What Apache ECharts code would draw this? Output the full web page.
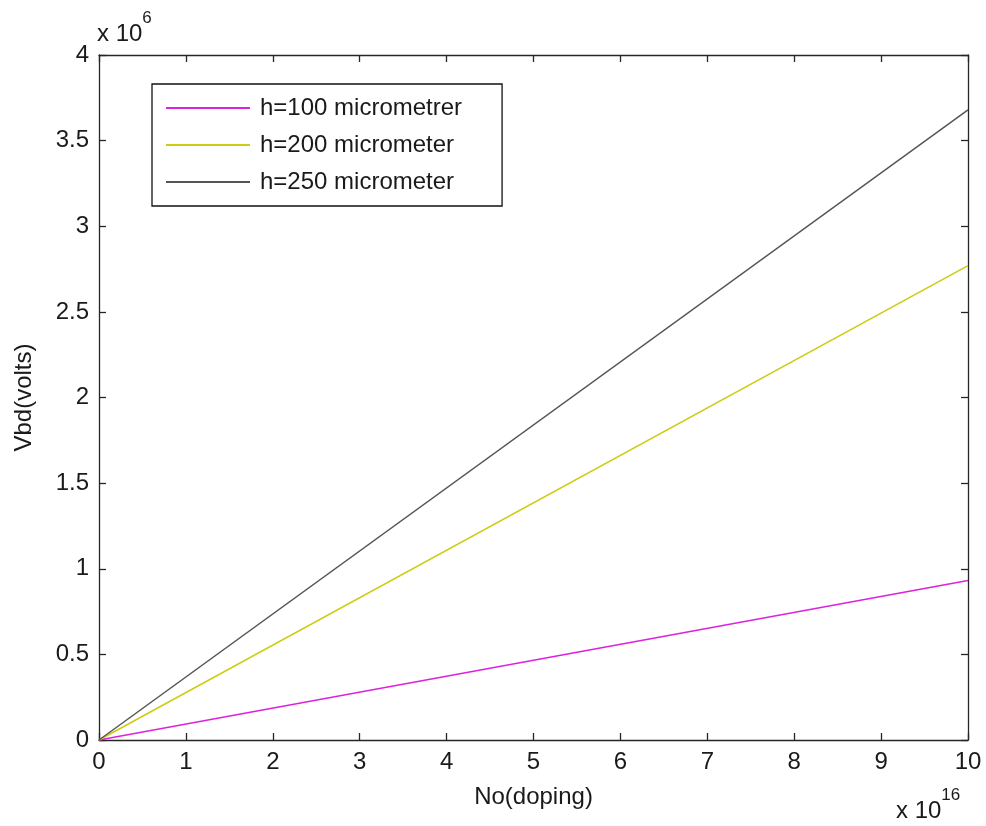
<!DOCTYPE html>
<html>
<head>
<meta charset="utf-8">
<script src="https://cdn.jsdelivr.net/npm/echarts@6/dist/echarts.min.js"></script>
<style>
  html, body { margin: 0; padding: 0; background: #fff; }
  #chart { width: 986px; height: 826px; }
</style>
</head>
<body>
<div id="chart"></div>
<script>
// doping (x 10^16) and breakdown voltage (x 10^6)
var xDoping = [0, 10];
var v100 = [0, 0.932];
var v200 = [0, 2.770];
var v250 = [0, 3.679];
var seriesNames = ["h=100 micrometrer", "h=200 micrometer", "h=250 micrometer"];
var xTicks = [0, 1, 2, 3, 4, 5, 6, 7, 8, 9, 10];
var yTicks = [0, 0.5, 1, 1.5, 2, 2.5, 3, 3.5, 4];

var chart = echarts.init(document.getElementById("chart"));
var font = "Liberation Sans, Arial, sans-serif";
var axisColor = "#262626";
var textColor = "#1a1a1a";

function pairs(xs, ys) {
    var out = [];
    for (var i = 0; i < xs.length; i++) {
        out.push([xs[i], ys[i]]);
    }
    return out;
}

var baseX = {
    type: "value",
    min: xTicks[0],
    max: xTicks[xTicks.length - 1],
    interval: 1,
    axisLine: { show: true, onZero: false, lineStyle: { color: axisColor, width: 1.3 } },
    axisTick: { show: true, inside: true, length: 7, lineStyle: { color: axisColor, width: 1.3 } },
    splitLine: { show: false }
};
var baseY = {
    type: "value",
    min: yTicks[0],
    max: yTicks[yTicks.length - 1],
    interval: 0.5,
    axisLine: { show: true, onZero: false, lineStyle: { color: axisColor, width: 1.3 } },
    axisTick: { show: true, inside: true, length: 7, lineStyle: { color: axisColor, width: 1.3 } },
    splitLine: { show: false }
};

var expRich = {
    b: { fontFamily: font, fontSize: 24, fill: textColor, verticalAlign: "bottom", padding: [12, 0, 0, 0] },
    s: { fontFamily: font, fontSize: 17, fill: textColor, verticalAlign: "top" }
};

var option = {
    backgroundColor: "#fff",
    animation: false,
    grid: { left: 99, right: 18, top: 55, bottom: 86 },
    xAxis: [
        Object.assign({}, baseX, {
            position: "bottom",
            name: "No(doping)",
            nameLocation: "middle",
            nameGap: 45,
            nameTextStyle: { fontFamily: font, fontSize: 24, color: textColor },
            axisLabel: { fontFamily: font, fontSize: 24, color: textColor, margin: 10 }
        }),
        Object.assign({}, baseX, { position: "top", axisLabel: { show: false } })
    ],
    yAxis: [
        Object.assign({}, baseY, {
            position: "left",
            name: "Vbd(volts)",
            nameLocation: "middle",
            nameGap: 63,
            nameTextStyle: { fontFamily: font, fontSize: 24, color: textColor },
            axisLabel: { fontFamily: font, fontSize: 24, color: textColor, margin: 10 }
        }),
        Object.assign({}, baseY, { position: "right", axisLabel: { show: false } })
    ],
    legend: {
        orient: "vertical",
        left: 152,
        top: 84,
        padding: [12, 40, 12, 14],
        itemGap: 13,
        itemWidth: 84,
        itemHeight: 2,
        icon: "rect",
        borderColor: "#111",
        borderWidth: 1.3,
        borderRadius: 0,
        backgroundColor: "#fff",
        textStyle: { fontFamily: font, fontSize: 24, color: textColor, padding: [0, 0, 0, 5] },
        data: seriesNames
    },
    graphic: [
        {
            type: "text",
            left: 97,
            top: 10,
            style: { text: "{b|x 10}{s|6}", rich: expRich }
        },
        {
            type: "text",
            left: 896,
            top: 787,
            style: { text: "{b|x 10}{s|16}", rich: expRich }
        }
    ],
    series: [
        {
            name: seriesNames[0],
            type: "line",
            data: pairs(xDoping, v100),
            showSymbol: false,
            color: "#dd22dd",
            lineStyle: { width: 1.5 }
        },
        {
            name: seriesNames[1],
            type: "line",
            data: pairs(xDoping, v200),
            showSymbol: false,
            color: "#cccc10",
            lineStyle: { width: 1.5 }
        },
        {
            name: seriesNames[2],
            type: "line",
            data: pairs(xDoping, v250),
            showSymbol: false,
            color: "#555555",
            lineStyle: { width: 1.5 }
        }
    ]
};

chart.setOption(option);
</script>
</body>
</html>
